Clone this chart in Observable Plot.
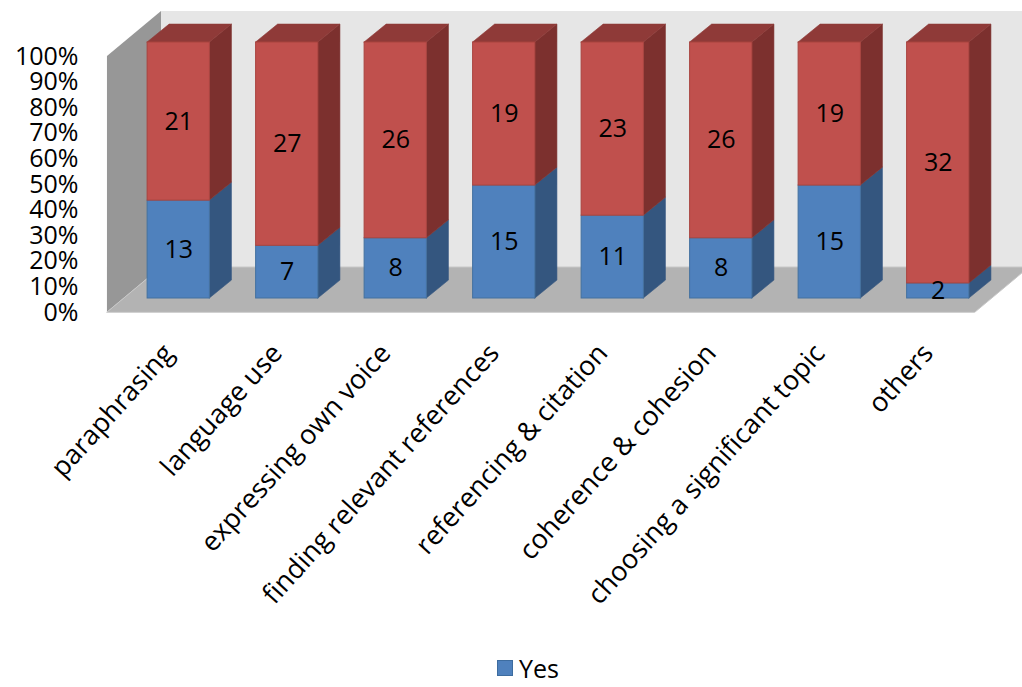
<!DOCTYPE html>
<html>
<head>
<meta charset="utf-8">
<script src="https://cdn.jsdelivr.net/npm/d3@7"></script>
<script src="https://cdn.jsdelivr.net/npm/@observablehq/plot@0.6"></script>
<style>
  html, body { margin: 0; padding: 0; background: white; overflow: hidden; width: 1022px; height: 687px; }
  #chart svg { display: block; overflow: hidden; }
  #legend { position: relative; height: 47px; font-family: "Open Sans", sans-serif; font-size: 25px; color: #000; }
  #legend .item { position: absolute; left: 497px; top: 11px; display: flex; align-items: center; }
  #legend .swatch { width: 14px; height: 14px; background: #4f81bd; border: 1px solid #3d6c9f; margin-right: 6px; }
</style>
</head>
<body>
<div id="chart"></div>
<div id="legend"><div class="item"><span class="swatch"></span><span>Yes</span></div></div>
<script>
const categories = ["paraphrasing", "language use", "expressing own voice", "finding relevant references",
  "referencing & citation", "coherence & cohesion", "choosing a significant topic", "others"];
const yesValues = [13, 7, 8, 15, 11, 8, 15, 2];
const noValues = [21, 27, 26, 19, 23, 26, 19, 32];
const seriesNames = ["Yes", "No"];
const yTickValues = [0, 10, 20, 30, 40, 50, 60, 70, 80, 90, 100];

// geometry (data units)
const HW = 0.287;            // half bar width
const DX = 0.203, DY = 0.07; // bar depth
const XL = -0.5, XR = 7.5;
const FX = -0.157, FY = -0.055; // front plane of box
const BX = 0.341, BY = 0.121;   // back plane of box

const colors = {
  Yes: {front: "#4f81bd", side: "#34567f", top: "#3c6496", stroke: "#44719f"},
  No: {front: "#c0504d", side: "#7c302e", top: "#8f3a38", stroke: "#a8443f"}
};

const frontFaces = [], sideFaces = [], topFaces = [];
categories.forEach((c, i) => {
  const total = yesValues[i] + noValues[i];
  const segs = [
    {series: "Yes", value: yesValues[i], y1: 0, y2: yesValues[i] / total},
    {series: "No", value: noValues[i], y1: yesValues[i] / total, y2: 1}
  ];
  segs.forEach(s => {
    frontFaces.push({...s, i, x1: i - HW, x2: i + HW});
    const key = c + s.series;
    sideFaces.push({key, series: s.series, x: i + HW, y1: s.y1, y2: s.y2});
    sideFaces.push({key, series: s.series, x: i + HW + DX, y1: s.y1 + DY, y2: s.y2 + DY});
  });
  topFaces.push({key: c, y: 1, x1: i - HW, x2: i + HW});
  topFaces.push({key: c, y: 1 + DY, x1: i - HW + DX, x2: i + HW + DX});
});

const leftWall = [
  {x: XL + FX, y1: FY, y2: 1 + FY},
  {x: XL + BX, y1: BY, y2: 1 + BY}
];
const floorFace = [
  {y: FY, x1: XL + FX, x2: XR + FX},
  {y: BY, x1: XL + BX, x2: XR + BX}
];
const backWall = [{x1: XL + BX, x2: XR + BX + 0.5, y1: BY, y2: 1 + BY}];

const chart = Plot.plot({
  width: 1022,
  height: 640,
  marginLeft: 124,
  marginRight: 30,
  marginTop: 42,
  marginBottom: 342,
  style: {fontFamily: "'Open Sans', sans-serif", background: "white", color: "#000", overflow: "hidden"},
  x: {type: "linear", domain: [XL, XR]},
  y: {domain: [0, 1]},
  marks: [
    Plot.rect(backWall, {x1: "x1", x2: "x2", y1: "y1", y2: "y2", fill: "#e6e6e6"}),
    Plot.areaY(leftWall, {x: "x", y1: "y1", y2: "y2", fill: "#979797"}),
    Plot.areaX(floorFace, {y: "y", x1: "x1", x2: "x2", fill: "#b3b3b3", stroke: "#c8c8c8", strokeWidth: 1}),
    Plot.areaY(sideFaces, {x: "x", y1: "y1", y2: "y2", z: "key", fill: d => colors[d.series].side, stroke: d => colors[d.series].side, strokeWidth: 0.6}),
    Plot.areaX(topFaces, {y: "y", x1: "x1", x2: "x2", z: "key", fill: colors.No.top, stroke: colors.No.top, strokeWidth: 0.6}),
    Plot.rect(frontFaces, {x1: "x1", x2: "x2", y1: "y1", y2: "y2", fill: d => colors[d.series].front, stroke: d => colors[d.series].stroke, strokeWidth: 1}),
    Plot.text(frontFaces, {x: d => (d.x1 + d.x2) / 2, y: d => (d.y1 + d.y2) / 2, text: "value", fontSize: 25, fill: "#000"}),
    Plot.axisY({ticks: yTickValues.map(v => v / 100), tickFormat: v => Math.round(v * 100) + "%", tickSize: 0, tickPadding: 46, dy: 14, fontSize: 25, label: null}),
    Plot.axisX({ticks: d3.range(categories.length), tickFormat: i => categories[i], tickRotate: -48, tickSize: 0, tickPadding: 50, dx: -10, fontSize: 27, label: null})
  ]
});
document.getElementById("chart").appendChild(chart);
</script>
</body>
</html>
